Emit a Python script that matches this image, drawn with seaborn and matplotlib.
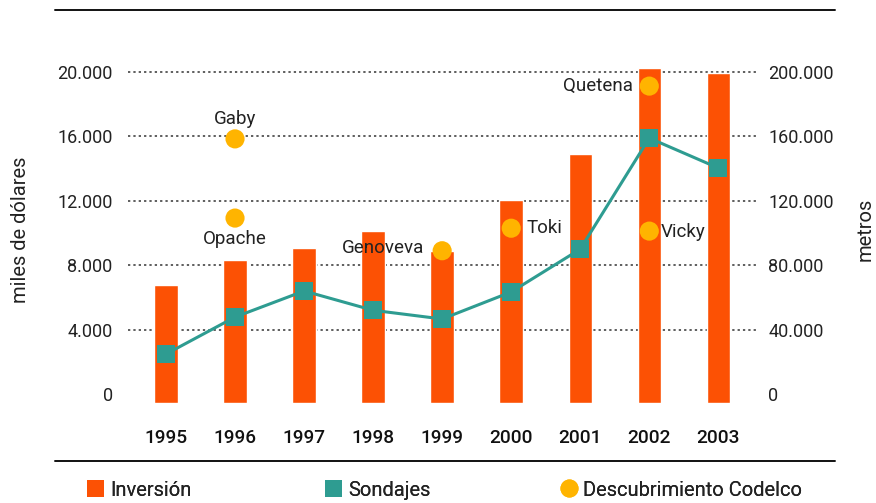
import numpy as np
import pandas as pd
import matplotlib
matplotlib.use("Agg")
import matplotlib.pyplot as plt
from matplotlib.lines import Line2D
from matplotlib.patches import Patch
import seaborn as sns

# ---------------- data ----------------
years = ["1995", "1996", "1997", "1998", "1999", "2000", "2001", "2002", "2003"]
inversion = [6800, 8300, 9050, 10100, 8900, 12050, 14900, 20250, 19950]      # miles de dólares
sondajes = [24800, 47800, 64000, 52000, 46600, 63400, 90000, 159000, 140400]  # metros
disc_names = ["Gaby", "Opache", "Genoveva", "Toki", "Quetena", "Vicky"]
disc_years = ["1996", "1996", "1999", "2000", "2002", "2002"]
disc_values = [15850, 10930, 8900, 10300, 19130, 10120]
left_ticks = [0, 4000, 8000, 12000, 16000, 20000]
right_ticks = [0, 40000, 80000, 120000, 160000, 200000]

# ---------------- style ----------------
ORANGE = "#FC5104"
TEAL = "#2E9C91"
YELLOW = "#FFB400"
TXT = "#222222"

sns.set_theme(style="white")
plt.rcParams["font.family"] = ["Roboto", "DejaVu Sans"]

fig = plt.figure(figsize=(8.76, 5.03), dpi=100)
ax = fig.add_axes([128 / 876, 1 - 403 / 503, (757 - 128) / 876, (403 - 56) / 503])

YMIN, YMAX = -560, 21000

df = pd.DataFrame({"year": years, "inversion": inversion})
sns.barplot(data=df, x="year", y="inversion", color=ORANGE, saturation=1,
            width=0.34, ax=ax, zorder=2)
# let bars reach the lower edge of the plot area, as in the reference
for p in ax.patches:
    h = p.get_height()
    p.set_y(YMIN)
    p.set_height(h - YMIN)

ax.set_ylim(YMIN, YMAX)
ax.set_xlim(-0.55, 8.56)
ax.set_yticks(left_ticks)
ax.set_yticklabels([f"{v:,}".replace(",", ".") for v in left_ticks])
for yv in left_ticks[1:]:
    ax.axhline(yv, color="#333333", lw=1.1, ls=(0, (1.5, 2)), zorder=0)
ax.grid(False)
for s in ax.spines.values():
    s.set_visible(False)
ax.tick_params(axis="y", length=0, pad=11, labelsize=13, labelcolor=TXT)
ax.tick_params(axis="x", length=0, pad=19, labelsize=13.7, labelcolor="#111111")
for lbl in ax.get_xticklabels():
    lbl.set_fontweight("medium")
ax.set_xlabel("")
ax.set_ylabel("miles de dólares", fontsize=14.5, color=TXT, labelpad=20)

# discoveries
xidx = [years.index(y) for y in disc_years]
sns.scatterplot(x=xidx, y=disc_values, ax=ax, color=YELLOW, s=190,
                edgecolor="none", zorder=4)
label_style = {
    "Gaby": dict(dx=0, dy=1250, ha="center", va="center"),
    "Opache": dict(dx=0, dy=-1320, ha="center", va="center"),
    "Genoveva": dict(dx=-0.26, dy=170, ha="right", va="center"),
    "Toki": dict(dx=0.22, dy=0, ha="left", va="center"),
    "Quetena": dict(dx=-0.24, dy=0, ha="right", va="center"),
    "Vicky": dict(dx=0.16, dy=-60, ha="left", va="center"),
}
for name, xi, yv in zip(disc_names, xidx, disc_values):
    st = label_style[name]
    ax.text(xi + st["dx"], yv + st["dy"], name, ha=st["ha"], va=st["va"],
            fontsize=13.5, color=TXT, zorder=5)

# sondajes on right axis
ax2 = ax.twinx()
sns.lineplot(x=np.arange(len(years)), y=sondajes, ax=ax2, color=TEAL, lw=2.2,
             marker="s", markersize=12.5, markeredgewidth=0, zorder=3)
ax2.set_ylim(YMIN * 10, YMAX * 10)
ax2.set_xlim(-0.55, 8.56)
ax2.set_yticks(right_ticks)
ax2.set_yticklabels([f"{v:,}".replace(",", ".") for v in right_ticks])
ax2.tick_params(axis="y", length=0, pad=8, labelsize=13, labelcolor=TXT)
ax2.grid(False)
for s in ax2.spines.values():
    s.set_visible(False)
ax2.set_ylabel("metros", fontsize=14.5, color=TXT, rotation=90, labelpad=16)

# frame lines
fig.add_artist(Line2D([55 / 876, 835 / 876], [1 - 10 / 503, 1 - 10 / 503],
                      color="#111111", lw=1.4))
fig.add_artist(Line2D([55 / 876, 835 / 876], [1 - 461 / 503, 1 - 461 / 503],
                      color="#111111", lw=1.4))

# legend (three separate entries)
leg_items = [
    (Patch(facecolor=ORANGE, edgecolor="none"), "Inversión", 87),
    (Patch(facecolor=TEAL, edgecolor="none"), "Sondajes", 325),
    (Line2D([], [], ls="none", marker="o", markersize=12, color=YELLOW), "Descubrimiento Codelco", 560),
]
for h, lab, xp in leg_items:
    lg = fig.legend([h], [lab], loc="center left",
                    bbox_to_anchor=(xp / 876, 1 - 490 / 503), frameon=False,
                    fontsize=14.5, handlelength=0.85, handleheight=0.85,
                    handletextpad=0.3, borderpad=0, borderaxespad=0)
    for t in lg.get_texts():
        t.set_color(TXT)
    fig.add_artist(lg)

fig.savefig("out.png", dpi=100)
